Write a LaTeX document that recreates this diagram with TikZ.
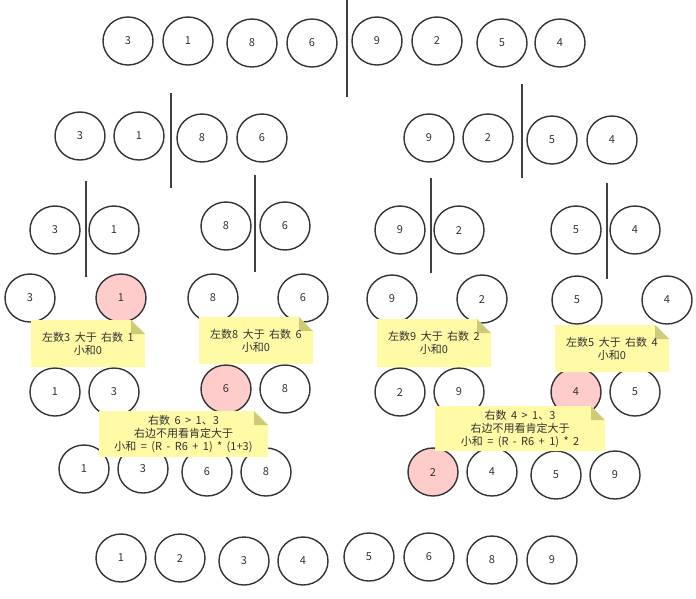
\documentclass[tikz,border=0pt]{standalone}
\usepackage{fontspec}
\setmainfont[WordSpace=1.8]{Noto Sans CJK SC}
\usetikzlibrary{shapes.geometric}
\definecolor{inkc}{HTML}{333333}
\definecolor{sepc}{HTML}{404040}
\definecolor{pinkc}{HTML}{FFCCCC}
\definecolor{notec}{HTML}{FFFAA6}
\definecolor{foldc}{HTML}{CDCB78}
\tikzset{
  cir/.style={ellipse, draw=inkc, line width=1.4pt, fill=white, minimum width=50pt, minimum height=48pt, inner sep=0pt, text=inkc, font=\fontsize{11}{13}\selectfont},
  hot/.style={cir, fill=pinkc},
  sepline/.style={draw=sepc, line width=1.6pt},
  notetext/.style={align=center, text=inkc, inner sep=0pt, font=\fontsize{11}{13}\selectfont},
}
\newcommand\mynote[6]{%
  \fill[notec] (#2,#3) -- (#4-14,#3) -- (#4,#3+14) -- (#4,#5) -- (#2,#5) -- cycle;
  \fill[foldc] (#4-14,#3) -- (#4-14,#3+14) -- (#4,#3+14) -- cycle;
  \node[notetext] (#1) at ({(#2+#4)/2},{(#3+#5)/2}) {#6};}
\begin{document}
\begin{tikzpicture}[x=1pt,y=-1pt]
\useasboundingbox (0,0) rectangle (696,598);
% row 1
\node[cir] (a1) at (128,41) {3};
\node[cir] (a2) at (188,41) {1};
\node[cir] (a3) at (252,43) {8};
\node[cir] (a4) at (312,43) {6};
\node[cir] (a5) at (377,41) {9};
\node[cir] (a6) at (437,41) {2};
\node[cir] (a7) at (502,43) {5};
\node[cir] (a8) at (560,43) {4};
\draw[sepline] (347,0) -- (347,97);
% row 2
\node[cir] (b1) at (80,136) {3};
\node[cir] (b2) at (139,136) {1};
\node[cir] (b3) at (202,138) {8};
\node[cir] (b4) at (262,138) {6};
\node[cir] (b5) at (429,138) {9};
\node[cir] (b6) at (488,138) {2};
\node[cir] (b7) at (552,140) {5};
\node[cir] (b8) at (612,140) {4};
\draw[sepline] (171,93) -- (171,188);
\draw[sepline] (522,84) -- (522,178);
% row 3
\node[cir] (c1) at (55,230) {3};
\node[cir] (c2) at (114,230) {1};
\node[cir] (c3) at (226,226) {8};
\node[cir] (c4) at (285,226) {6};
\node[cir] (c5) at (400,230) {9};
\node[cir] (c6) at (459,230) {2};
\node[cir] (c7) at (576,230) {5};
\node[cir] (c8) at (635,230) {4};
\draw[sepline] (86,181) -- (86,277);
\draw[sepline] (255,175) -- (255,272);
\draw[sepline] (431,178) -- (431,273);
\draw[sepline] (607,183) -- (607,279);
% row 4
\node[cir] (d1) at (30,298) {3};
\node[hot] (d2) at (121,298) {1};
\node[cir] (d3) at (213,298) {8};
\node[cir] (d4) at (303,298) {6};
\node[cir] (d5) at (392,299) {9};
\node[cir] (d6) at (482,299) {2};
\node[cir] (d7) at (577,300) {5};
\node[cir] (d8) at (667,300) {4};
% row 5
\node[cir] (e1) at (55,392) {1};
\node[cir] (e2) at (114,392) {3};
\node[hot] (e3) at (226,389) {6};
\node[cir] (e4) at (285,389) {8};
\node[cir] (e5) at (400,392) {2};
\node[cir] (e6) at (459,392) {9};
\node[hot] (e7) at (576,392) {4};
\node[cir] (e8) at (635,392) {5};
% row 6
\node[cir] (f1) at (84,469) {1};
\node[cir] (f2) at (143,469) {3};
\node[cir] (f3) at (207,472) {6};
\node[cir] (f4) at (266,472) {8};
\node[hot] (f5) at (433,472) {2};
\node[cir] (f6) at (492,472) {4};
\node[cir] (f7) at (556,475) {5};
\node[cir] (f8) at (615,475) {9};
% row 7
\node[cir] (g1) at (121,558) {1};
\node[cir] (g2) at (180,558) {2};
\node[cir] (g3) at (244,561) {3};
\node[cir] (g4) at (303,561) {4};
\node[cir] (g5) at (369,557) {5};
\node[cir] (g6) at (429,557) {6};
\node[cir] (g7) at (492,560) {8};
\node[cir] (g8) at (552,560) {9};
% notes
\mynote{n1}{31}{320}{145}{367}{左数3 大于 右数 1\\小和0}
\mynote{n2}{199}{317}{313}{364}{左数8 大于 右数 6\\小和0}
\mynote{n3}{377}{319}{491}{367}{左数9 大于 右数 2\\小和0}
\mynote{n4}{555}{325}{669}{372}{左数5 大于 右数 4\\小和0}
\mynote{n5}{99}{411}{268}{457}{右数 6 > 1、3\\右边不用看肯定大于\\小和 = (R - R6 + 1) * (1+3)}
\mynote{n6}{435}{406}{605}{451}{右数 4 > 1、3\\右边不用看肯定大于\\小和 = (R - R6 + 1) * 2}
\end{tikzpicture}
\end{document}
